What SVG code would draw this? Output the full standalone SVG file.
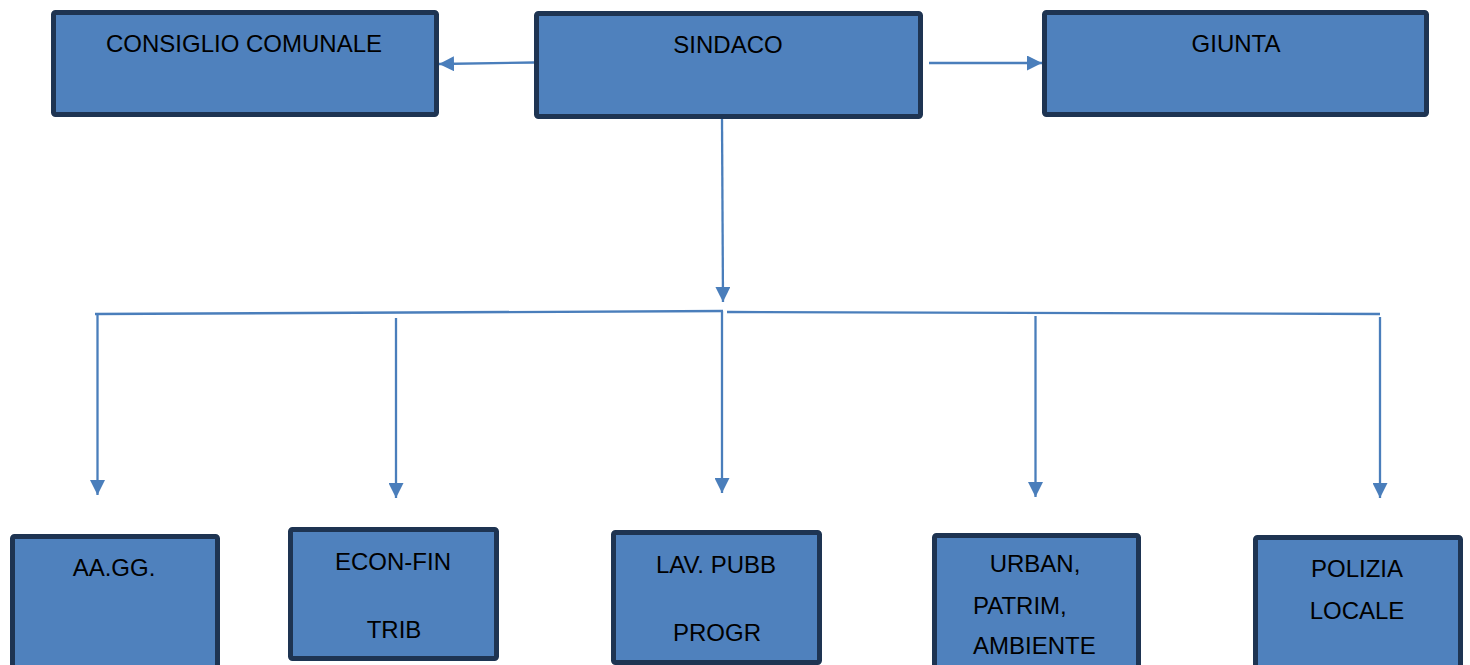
<svg xmlns="http://www.w3.org/2000/svg" width="1470" height="665" viewBox="0 0 1470 665">
<style>
.box{fill:#4F81BD;stroke:#1E3452;stroke-width:5;stroke-linejoin:round}
.lbl{font-family:"Liberation Sans",Arial,sans-serif;font-size:24px;fill:#000;text-anchor:middle}
.lbs{font-family:"Liberation Sans",Arial,sans-serif;font-size:24px;fill:#000}
.con{fill:none;stroke:#4A7EBB;stroke-width:2.3}
.arr{marker-end:url(#ah)}
</style>
<defs>
<marker id="ah" viewBox="0 0 10 10" refX="10" refY="5" markerWidth="15" markerHeight="15" markerUnits="userSpaceOnUse" orient="auto">
<path d="M0,0 L10,5 L0,10 z" fill="#4A7EBB"/>
</marker>
</defs>
<rect width="1470" height="665" fill="#fff"/>
<g id="connectors">
<path class="con arr" d="M534 62.5 L439 64"/>
<path class="con arr" d="M929 63 L1042 63"/>
<path class="con arr" d="M722 119 L723 302"/>
<path class="con" d="M95 314 L723 311"/>
<path class="con" d="M727 312 L1380 314"/>
<path class="con arr" d="M97.5 314 L97.5 495"/>
<path class="con arr" d="M396 318 L396 498"/>
<path class="con arr" d="M722 311 L722 493"/>
<path class="con arr" d="M1035.5 316 L1035.5 497"/>
<path class="con arr" d="M1380 317 L1380 498"/>
</g>
<g id="consiglio">
<rect class="box" x="53.5" y="12.5" width="383" height="102" rx="2"/>
<text class="lbl" x="244" y="52">CONSIGLIO COMUNALE</text>
</g>
<g id="sindaco">
<rect class="box" x="536.5" y="13.5" width="384" height="103" rx="2"/>
<text class="lbl" x="728" y="53">SINDACO</text>
</g>
<g id="giunta">
<rect class="box" x="1044.5" y="12.5" width="382" height="102" rx="2"/>
<text class="lbl" x="1236" y="52">GIUNTA</text>
</g>
<g id="aagg">
<rect class="box" x="12.5" y="536.5" width="205" height="140" rx="2"/>
<text class="lbl" x="114" y="576">AA.GG.</text>
</g>
<g id="econfin">
<rect class="box" x="290.5" y="529.5" width="206" height="129" rx="2"/>
<text class="lbl" x="393" y="570">ECON-FIN</text>
<text class="lbl" x="394" y="638">TRIB</text>
</g>
<g id="lavpubb">
<rect class="box" x="613.5" y="532.5" width="206" height="130" rx="2"/>
<text class="lbl" x="716" y="573">LAV. PUBB</text>
<text class="lbl" x="717" y="641">PROGR</text>
</g>
<g id="urban">
<rect class="box" x="934.5" y="535.5" width="204" height="140" rx="2"/>
<text class="lbl" x="1035" y="572">URBAN,</text>
<text class="lbs" x="973" y="614">PATRIM,</text>
<text class="lbs" x="973" y="654">AMBIENTE</text>
</g>
<g id="polizia">
<rect class="box" x="1255.5" y="537.5" width="205" height="140" rx="2"/>
<text class="lbl" x="1357" y="577">POLIZIA</text>
<text class="lbl" x="1357" y="619">LOCALE</text>
</g>
</svg>
